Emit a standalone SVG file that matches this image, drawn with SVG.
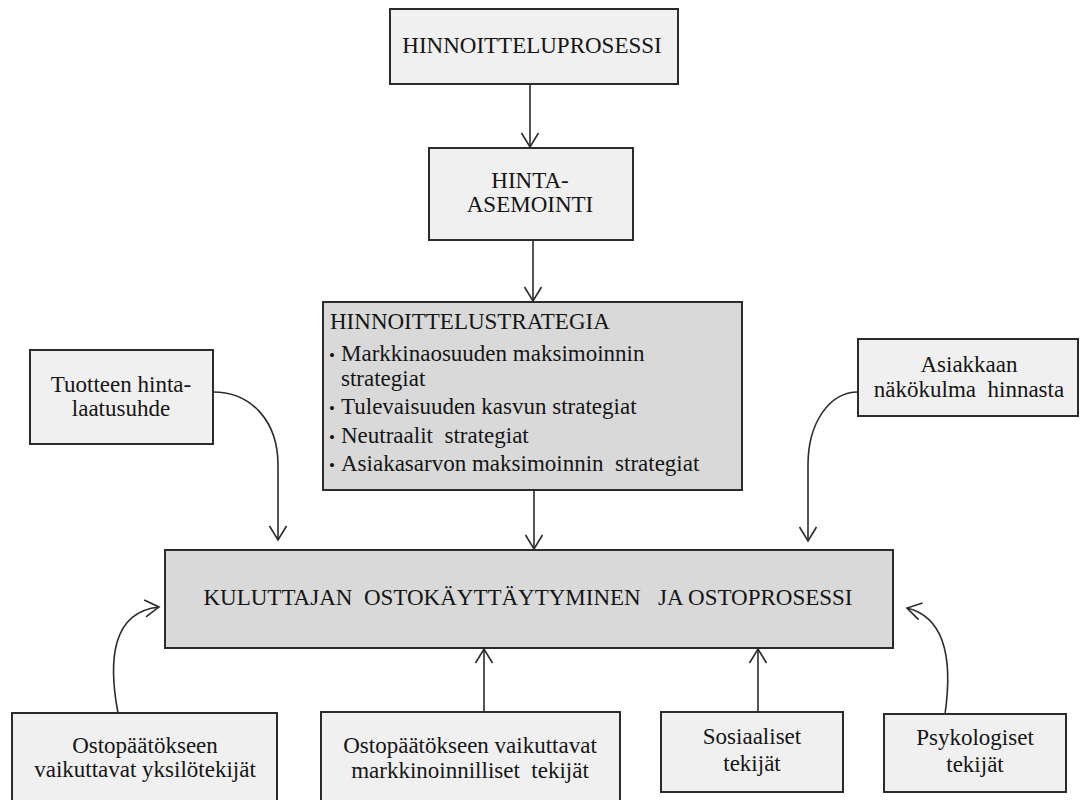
<svg xmlns="http://www.w3.org/2000/svg" width="1080" height="800" viewBox="0 0 1080 800">
<style>
.box{stroke:#2b2b2b;stroke-width:2}
.lt{fill:#f0f0f0}
.dk{fill:#d9d9d9}
text{font-family:"Liberation Serif","Times New Roman",serif;font-size:23px;fill:#151515}
.c{text-anchor:middle}
.b{font-size:17px}
.con{fill:none;stroke:#2b2b2b;stroke-width:1.6}
</style>
<defs>
<marker id="v" markerUnits="userSpaceOnUse" markerWidth="18" markerHeight="20" viewBox="0 0 18 20" refX="16" refY="10" orient="auto">
<path d="M2,1.5 L16,10 L2,18.5" fill="none" stroke="#2b2b2b" stroke-width="1.6"/>
</marker>
</defs>
<rect width="1080" height="800" fill="#ffffff"/>
<g id="connectors">
<path class="con" d="M530,84 L530,147" marker-end="url(#v)"/>
<path class="con" d="M533,240 L533,301" marker-end="url(#v)"/>
<path class="con" d="M534,490 L534,549" marker-end="url(#v)"/>
<path class="con" d="M213,392 C252,392 278,422 278,465 L278,540" marker-end="url(#v)"/>
<path class="con" d="M858,392 C830,392 808,422 808,465 L808,541" marker-end="url(#v)"/>
<path class="con" d="M118,713 C108,660 112,612 159,607" marker-end="url(#v)"/>
<path class="con" d="M945,714 C952,665 948,618 907,608" marker-end="url(#v)"/>
<path class="con" d="M484,712 L484,649" marker-end="url(#v)"/>
<path class="con" d="M758,712 L758,649" marker-end="url(#v)"/>
</g>
<g id="n-hinnoitteluprosessi">
<rect class="box lt" x="390" y="9" width="288" height="75"/>
<text class="c" x="532" y="53">HINNOITTELUPROSESSI</text>
</g>
<g id="n-hinta-asemointi">
<rect class="box lt" x="429" y="148" width="204" height="92"/>
<text class="c" x="530" y="188">HINTA-</text>
<text class="c" x="530" y="212">ASEMOINTI</text>
</g>
<g id="n-strategia">
<rect class="box dk" x="323" y="302" width="419" height="188"/>
<text x="330" y="329">HINNOITTELUSTRATEGIA</text>
<text class="b" x="329" y="361">•</text>
<text x="341" y="361">Markkinaosuuden maksimoinnin</text>
<text x="341" y="386">strategiat</text>
<text class="b" x="329" y="414">•</text>
<text x="341" y="414">Tulevaisuuden kasvun strategiat</text>
<text class="b" x="329" y="443">•</text>
<text x="341" y="443" xml:space="preserve">Neutraalit  strategiat</text>
<text class="b" x="329" y="471">•</text>
<text x="341" y="471" xml:space="preserve">Asiakasarvon maksimoinnin  strategiat</text>
</g>
<g id="n-tuotteen">
<rect class="box lt" x="30" y="350" width="183" height="94"/>
<text class="c" x="121" y="392">Tuotteen hinta-</text>
<text class="c" x="121" y="416">laatusuhde</text>
</g>
<g id="n-asiakkaan">
<rect class="box lt" x="858" y="339" width="220" height="77"/>
<text class="c" x="969" y="372">Asiakkaan</text>
<text class="c" x="969" y="397" xml:space="preserve">näkökulma  hinnasta</text>
</g>
<g id="n-kuluttajan">
<rect class="box dk" x="165" y="550" width="728" height="98"/>
<text class="c" x="528" y="605" xml:space="preserve">KULUTTAJAN  OSTOKÄYTTÄYTYMINEN   JA OSTOPROSESSI</text>
</g>
<g id="n-yksilo">
<rect class="box lt" x="12" y="713" width="265" height="92"/>
<text class="c" x="145" y="753">Ostopäätökseen</text>
<text class="c" x="145" y="777">vaikuttavat yksilötekijät</text>
</g>
<g id="n-markkinoinnilliset">
<rect class="box lt" x="321" y="712" width="299" height="93"/>
<text class="c" x="470" y="753">Ostopäätökseen vaikuttavat</text>
<text class="c" x="470" y="778" xml:space="preserve">markkinoinnilliset  tekijät</text>
</g>
<g id="n-sosiaaliset">
<rect class="box lt" x="661" y="712" width="182" height="80"/>
<text class="c" x="752" y="744">Sosiaaliset</text>
<text class="c" x="752" y="771">tekijät</text>
</g>
<g id="n-psykologiset">
<rect class="box lt" x="884" y="714" width="182" height="78"/>
<text class="c" x="975" y="745">Psykologiset</text>
<text class="c" x="975" y="772">tekijät</text>
</g>
</svg>
